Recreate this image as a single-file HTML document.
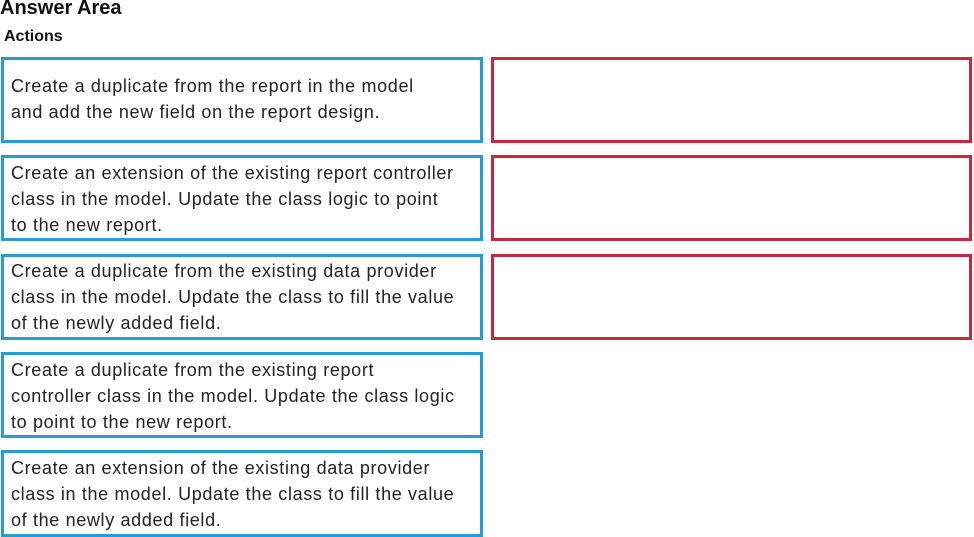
<!DOCTYPE html>
<html><head><style>
body{margin:0;width:974px;height:537px;background:#fff;position:relative;overflow:hidden;font-family:"Liberation Sans",sans-serif;color:#222}
.t{position:absolute;font-weight:bold;color:#111}
.b{position:absolute;box-sizing:border-box;border:3px solid #2a9ad2;left:1px;width:482px;height:86px;padding:14px 0 0 7px;font-size:18px;line-height:26px;letter-spacing:0.65px;white-space:nowrap}
.r{position:absolute;box-sizing:border-box;border:3px solid #c8283a;left:491px;width:481px;height:86px}
</style></head><body>
<div class="t" style="left:0;top:-3px;font-size:20px">Answer Area</div>
<div class="t" style="left:4px;top:28px;font-size:16px">Actions</div>
<div class="b" style="top:57px;padding-top:13px">Create a duplicate from the report in the model<br>and add the new field on the report design.</div>
<div class="b" style="top:155px;padding-top:2px">Create an extension of the existing report controller<br>class in the model. Update the class logic to point<br>to the new report.</div>
<div class="b" style="top:254px;padding-top:1px">Create a duplicate from the existing data provider<br>class in the model. Update the class to fill the value<br>of the newly added field.</div>
<div class="b" style="top:352px;padding-top:2px">Create a duplicate from the existing report<br>controller class in the model. Update the class logic<br>to point to the new report.</div>
<div class="b" style="top:450px;padding-top:2px;height:87px">Create an extension of the existing data provider<br>class in the model. Update the class to fill the value<br>of the newly added field.</div>
<div class="r" style="top:57px"></div>
<div class="r" style="top:155px"></div>
<div class="r" style="top:254px"></div>
</body></html>
